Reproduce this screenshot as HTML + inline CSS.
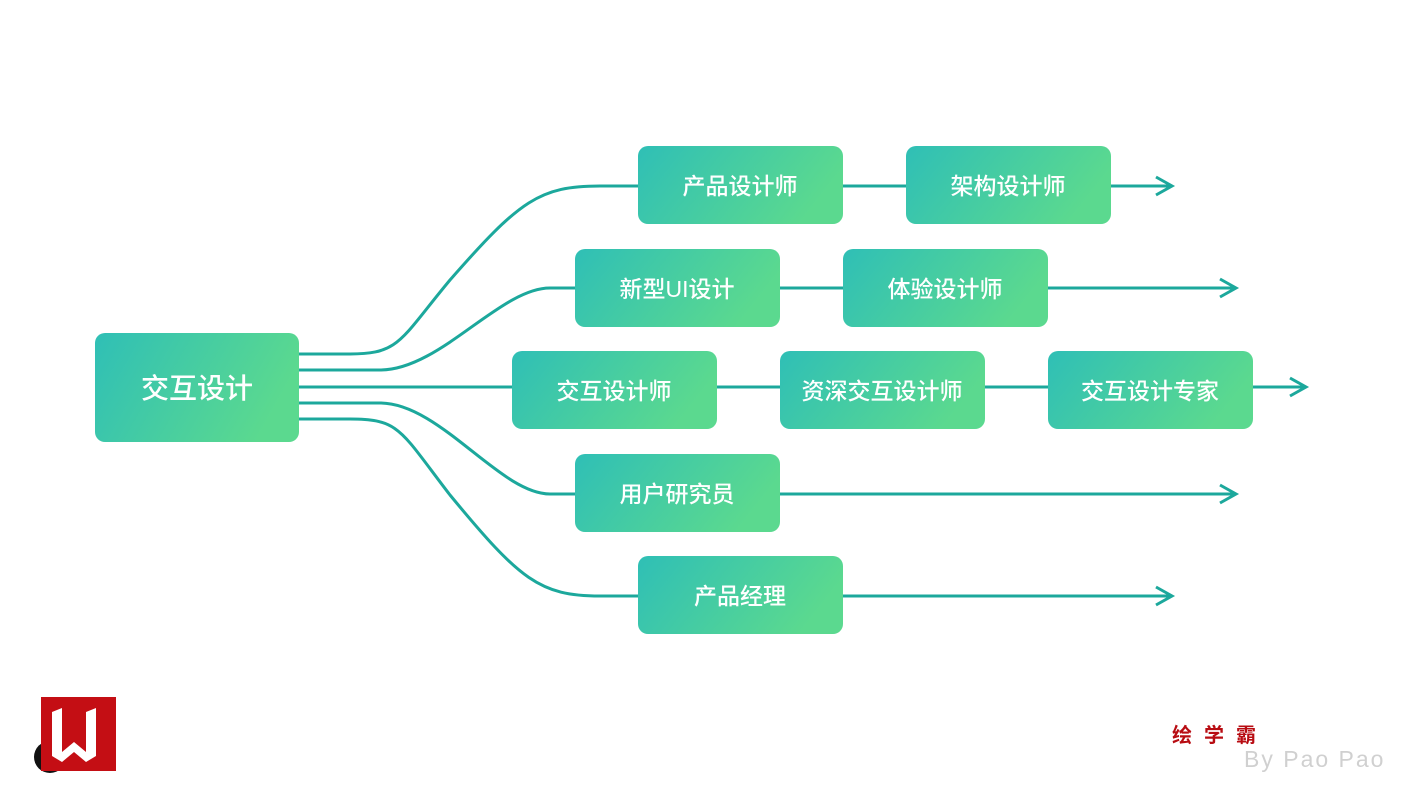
<!DOCTYPE html>
<html><head><meta charset="utf-8"><style>
body{margin:0;width:1420px;height:800px;background:#fff;overflow:hidden}
text{font-family:"Liberation Sans","Noto Sans CJK SC",sans-serif}
</style></head><body>
<svg width="1420" height="800" viewBox="0 0 1420 800" xmlns="http://www.w3.org/2000/svg">
<defs>
<linearGradient id="g" x1="0" y1="0" x2="1" y2="0.3">
<stop offset="0" stop-color="#2fbfb6"/><stop offset="1" stop-color="#5bd98f"/>
</linearGradient>
</defs>
<g fill="none" stroke="#1ca89c" stroke-width="3">
<path d="M299 354 H350 C400 354 400 340 450 280 C520 200 540 186 600 186 H1172"/>
<path d="M299 370 H380 C440 370 500 288 550 288 H1236"/>
<path d="M299 387 H1306"/>
<path d="M299 403 H380 C440 403 500 494 550 494 H1236"/>
<path d="M299 419 H350 C400 419 400 430 450 495 C520 580 540 596 600 596 H1172"/>
<path d="M1156 177 L1172 186 L1156 195"/>
<path d="M1220 279 L1236 288 L1220 297"/>
<path d="M1290 378 L1306 387 L1290 396"/>
<path d="M1220 485 L1236 494 L1220 503"/>
<path d="M1156 587 L1172 596 L1156 605"/>
</g>
<g fill="url(#g)">
<rect x="95" y="333" width="204" height="109" rx="10"/>
<rect x="638" y="146" width="205" height="78" rx="10"/>
<rect x="906" y="146" width="205" height="78" rx="10"/>
<rect x="575" y="249" width="205" height="78" rx="10"/>
<rect x="843" y="249" width="205" height="78" rx="10"/>
<rect x="512" y="351" width="205" height="78" rx="10"/>
<rect x="780" y="351" width="205" height="78" rx="10"/>
<rect x="1048" y="351" width="205" height="78" rx="10"/>
<rect x="575" y="454" width="205" height="78" rx="10"/>
<rect x="638" y="556" width="205" height="78" rx="10"/>
</g>
<g fill="#fff" font-size="23" text-anchor="middle" font-weight="500">
<text x="197" y="398" font-size="28">交互设计</text>
<text x="740" y="194">产品设计师</text>
<text x="1008" y="194">架构设计师</text>
<text x="677" y="297">新型UI设计</text>
<text x="945" y="297">体验设计师</text>
<text x="614" y="399">交互设计师</text>
<text x="882" y="399">资深交互设计师</text>
<text x="1150" y="399">交互设计专家</text>
<text x="677" y="502">用户研究员</text>
<text x="740" y="604">产品经理</text>
</g>
<circle cx="50" cy="757" r="16" fill="#111"/>
<rect x="41" y="697" width="75" height="74" fill="#c40e14"/>
<path d="M52 712 L62 708 V752 L74 742 L86 752 V712 L96 708 V756 L86 762 L74 752 L62 762 L52 756Z" fill="#fff"/>
<text x="1172" y="742" font-size="20" fill="#b80c12" font-weight="bold" letter-spacing="12">绘学霸</text>
<text x="1244" y="767" font-size="23" fill="#d0d0d0" letter-spacing="2">By Pao Pao</text>
</svg>
</body></html>
